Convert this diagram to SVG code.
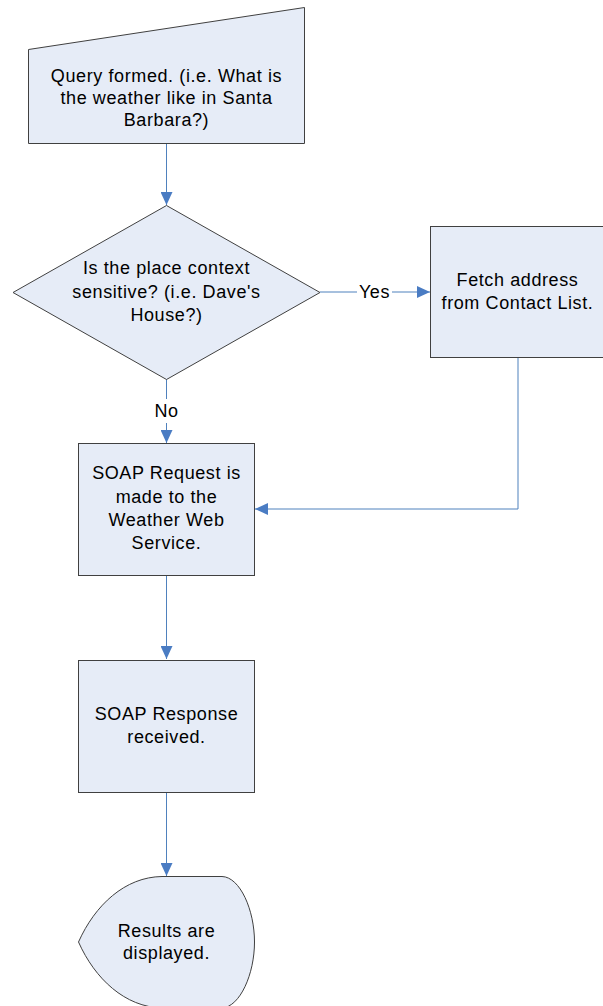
<svg xmlns="http://www.w3.org/2000/svg" width="603" height="1006" viewBox="0 0 603 1006">
  <style>
    .shape { fill: #E6ECF7; stroke: #404040; stroke-width: 1; }
    .conn { fill: none; stroke: #4F81BD; stroke-width: 1; }
    .label { font-family: "Liberation Sans", Arial, sans-serif; font-size: 18px; letter-spacing: 0.6px; fill: #000; text-anchor: middle; }
  </style>
  <defs>
    <marker id="arrow" viewBox="0 0 13 12" refX="13" refY="6" markerWidth="13" markerHeight="12" markerUnits="userSpaceOnUse" orient="auto">
      <path d="M0,0 L13,6 L0,12 Z" fill="#4A7CC3"/>
    </marker>
  </defs>
  <rect width="603" height="1006" fill="#fff"/>

  <g id="connectors">
    <path class="conn" d="M166.5,143 V205" marker-end="url(#arrow)"/>
    <path class="conn" d="M320,292 H430" marker-end="url(#arrow)"/>
    <path class="conn" d="M166.5,379 V443" marker-end="url(#arrow)"/>
    <path class="conn" d="M518,357 V509 H255" marker-end="url(#arrow)"/>
    <path class="conn" d="M166.5,575 V659" marker-end="url(#arrow)"/>
    <path class="conn" d="M166.5,792 V876" marker-end="url(#arrow)"/>
    <rect x="357" y="282" width="35" height="20" fill="#fff"/>
    <text class="label" x="374.5" y="298">Yes</text>
    <rect x="154" y="399" width="25" height="24" fill="#fff"/>
    <text class="label" x="166.5" y="417">No</text>
  </g>

  <g id="query">
    <path class="shape" d="M28.5,49.5 L304.5,7.5 V143.5 H28.5 Z"/>
    <text class="label" x="166.5" y="82">Query formed. (i.e. What is</text>
    <text class="label" x="166.5" y="104">the weather like in Santa</text>
    <text class="label" x="166.5" y="125.5">Barbara?)</text>
  </g>

  <g id="decision">
    <path class="shape" d="M166.5,205.5 L320,292.5 L166.5,379.5 L13,292.5 Z"/>
    <text class="label" x="166.5" y="274">Is the place context</text>
    <text class="label" x="166.5" y="297.5">sensitive? (i.e. Dave's</text>
    <text class="label" x="166.5" y="321">House?)</text>
  </g>

  <g id="fetch">
    <rect class="shape" x="430.5" y="226.5" width="180" height="131"/>
    <text class="label" x="517.5" y="286">Fetch address</text>
    <text class="label" x="517.5" y="309">from Contact List.</text>
  </g>

  <g id="soap-request">
    <rect class="shape" x="78.5" y="443.5" width="176" height="132"/>
    <text class="label" x="166.5" y="479">SOAP Request is</text>
    <text class="label" x="166.5" y="502.5">made to the</text>
    <text class="label" x="166.5" y="526">Weather Web</text>
    <text class="label" x="166.5" y="549">Service.</text>
  </g>

  <g id="soap-response">
    <rect class="shape" x="78.5" y="660.5" width="176" height="132"/>
    <text class="label" x="166.5" y="720">SOAP Response</text>
    <text class="label" x="166.5" y="743">received.</text>
  </g>

  <g id="results">
    <path class="shape" d="M78.5,942 C95,905 125,877 162,876.5 H222 C240,877 254.5,910 254.5,942 C254.5,974 240,1007 222,1008 H162 C125,1007 95,979 78.5,942 Z"/>
    <text class="label" x="166.5" y="937">Results are</text>
    <text class="label" x="166.5" y="959">displayed.</text>
  </g>
</svg>
